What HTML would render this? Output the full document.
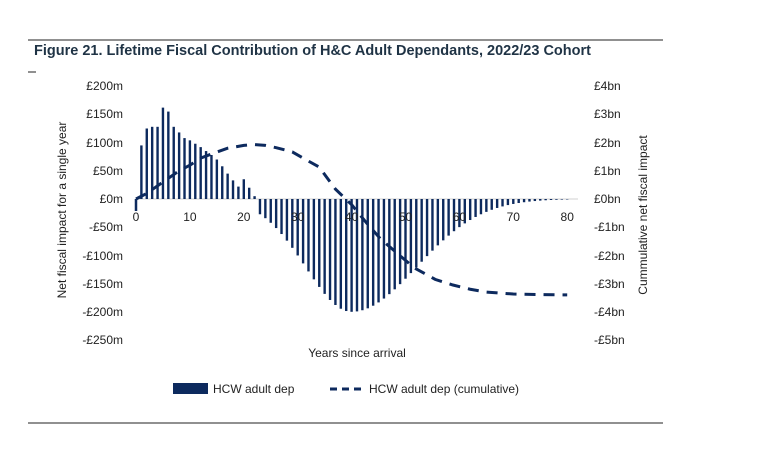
<!DOCTYPE html>
<html><head><meta charset="utf-8"><style>
body{margin:0;background:#fff;width:768px;height:467px;overflow:hidden;font-family:"Liberation Sans",sans-serif}
</style></head><body>
<svg id="s" width="768" height="467" xmlns="http://www.w3.org/2000/svg" font-family="Liberation Sans, sans-serif">
<rect width="768" height="467" fill="#fff"/>
<line x1="28" y1="40" x2="663" y2="40" stroke="#222" stroke-width="1"/>
<line x1="28" y1="423" x2="663" y2="423" stroke="#222" stroke-width="1"/>
<line x1="28" y1="72" x2="36" y2="72" stroke="#222" stroke-width="1"/>
<text x="34" y="55" font-size="14.5" font-weight="bold" fill="#1f3345">Figure 21. Lifetime Fiscal Contribution of H&amp;C Adult Dependants, 2022/23 Cohort</text>
<g id="g"></g>
<g font-size="12" fill="#222">
<text x="123" y="90" text-anchor="end">£200m</text>
<text x="123" y="118" text-anchor="end">£150m</text>
<text x="123" y="147" text-anchor="end">£100m</text>
<text x="123" y="175" text-anchor="end">£50m</text>
<text x="123" y="203" text-anchor="end">£0m</text>
<text x="123" y="231" text-anchor="end">-£50m</text>
<text x="123" y="260" text-anchor="end">-£100m</text>
<text x="123" y="288" text-anchor="end">-£150m</text>
<text x="123" y="316" text-anchor="end">-£200m</text>
<text x="123" y="344" text-anchor="end">-£250m</text>
<text x="594" y="90">£4bn</text>
<text x="594" y="118">£3bn</text>
<text x="594" y="147">£2bn</text>
<text x="594" y="175">£1bn</text>
<text x="594" y="203">£0bn</text>
<text x="594" y="231">-£1bn</text>
<text x="594" y="260">-£2bn</text>
<text x="594" y="288">-£3bn</text>
<text x="594" y="316">-£4bn</text>
<text x="594" y="344">-£5bn</text>
<text x="357" y="357" text-anchor="middle">Years since arrival</text>
<text transform="translate(66,210) rotate(-90)" text-anchor="middle">Net fiscal impact for a single year</text>
<text transform="translate(647,215) rotate(-90)" text-anchor="middle">Cummulative net fiscal impact</text>
<rect x="173" y="383" width="35" height="11" fill="#0d2a5e"/>
<text x="213" y="393">HCW adult dep</text>
<line x1="330" y1="389" x2="364" y2="389" stroke="#0d2a5e" stroke-width="3" stroke-dasharray="7,5"/>
<text x="369" y="393">HCW adult dep (cumulative)</text>
</g>
</svg>
<script>
var g=document.getElementById('g'),ns='http://www.w3.org/2000/svg';
function el(t,a){var e=document.createElementNS(ns,t);for(var k in a)e.setAttribute(k,a[k]);g.appendChild(e);return e;}
var X=function(y){return 136+y*5.39},Z=199,K=0.564;
var pos=[0,95,125,128,128,162,155,128,118,108,104,98,92,85,78,70,58,45,33,22,35,20,5];
var v=[];
for(var i=0;i<=80;i++){
 if(i<pos.length)v.push(pos[i]);
 else{var s=i<40?8.5:12;var d=i-40;v.push(-200*Math.exp(-d*d/(2*s*s)));}
}
el('line',{x1:136,y1:Z,x2:578,y2:Z,stroke:'#d0d0d0','stroke-width':1});
for(i=1;i<=80;i++){var h=v[i]*K;if(Math.abs(h)<0.3)continue;
 el('rect',{x:X(i)-1.2,y:h>0?Z-h:Z,width:2.4,height:Math.abs(h),fill:'#0d2a5e'});}
var labs=[0,10,20,30,40,50,60,70,80];
labs.forEach(function(l){var t=el('text',{x:X(l),y:221,'text-anchor':'middle','font-size':12,fill:'#222'});t.textContent=l;});
var cp=[[0,0],[2,0.2],[5,0.6],[8,1.0],[10,1.2],[12,1.45],[14.5,1.63],[17,1.8],[20,1.9],[22,1.93],[24,1.9],[26,1.82],[29,1.67],[31,1.45],[34,1.13],[37,0.35],[40,-0.2],[43,-0.9],[45.3,-1.4],[48.6,-1.95],[51.7,-2.45],[55.5,-2.85],[58.8,-3.05],[62,-3.2],[65,-3.3],[70,-3.37],[75,-3.39],[80,-3.4]];
var pts=cp.map(function(p){return X(p[0])+','+(Z-p[1]*28.2)});
el('polyline',{points:pts.join(' '),fill:'none',stroke:'#0d2a5e','stroke-width':3,'stroke-dasharray':'11,8'});
el('line',{x1:136,y1:Z,x2:136,y2:211,stroke:'#0d2a5e','stroke-width':2.5});
</script>
</body></html>
